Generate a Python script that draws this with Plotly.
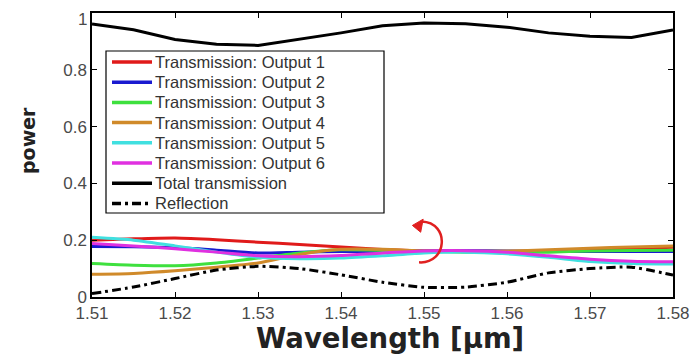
import plotly.graph_objects as go

# data
wavelength = [1.510, 1.515, 1.520, 1.525, 1.530, 1.535, 1.540, 1.545,
              1.550, 1.555, 1.560, 1.565, 1.570, 1.575, 1.580]

out1 = [0.200, 0.205, 0.208, 0.202, 0.193, 0.185, 0.176, 0.167,
        0.162, 0.160, 0.160, 0.162, 0.166, 0.170, 0.175]
out2 = [0.178, 0.177, 0.174, 0.165, 0.155, 0.158, 0.160, 0.161,
        0.162, 0.163, 0.162, 0.160, 0.160, 0.160, 0.160]
out3 = [0.118, 0.112, 0.110, 0.120, 0.137, 0.155, 0.166, 0.164,
        0.160, 0.158, 0.157, 0.158, 0.162, 0.164, 0.165]
out4 = [0.080, 0.083, 0.092, 0.105, 0.120, 0.150, 0.168, 0.168,
        0.162, 0.160, 0.162, 0.166, 0.172, 0.176, 0.180]
out5 = [0.210, 0.200, 0.180, 0.158, 0.140, 0.135, 0.137, 0.145,
        0.155, 0.158, 0.152, 0.140, 0.125, 0.118, 0.116]
out6 = [0.188, 0.180, 0.170, 0.158, 0.145, 0.142, 0.146, 0.155,
        0.162, 0.163, 0.158, 0.145, 0.133, 0.126, 0.124]
total = [0.961, 0.941, 0.907, 0.890, 0.886, 0.908, 0.930, 0.955,
         0.965, 0.962, 0.950, 0.930, 0.918, 0.914, 0.940]
reflection = [0.012, 0.035, 0.065, 0.095, 0.108, 0.100, 0.078, 0.052,
              0.034, 0.035, 0.052, 0.085, 0.100, 0.105, 0.077]

x_ticks = [1.51, 1.52, 1.53, 1.54, 1.55, 1.56, 1.57, 1.58]
y_ticks = [0, 0.2, 0.4, 0.6, 0.8, 1]
y_tick_labels = ["0", "0.2", "0.4", "0.6", "0.8", "1"]

names = ["Transmission: Output 1", "Transmission: Output 2", "Transmission: Output 3",
         "Transmission: Output 4", "Transmission: Output 5", "Transmission: Output 6",
         "Total transmission", "Reflection"]
values = [out1, out2, out3, out4, out5, out6, total, reflection]
colors = ["#e01a1a", "#1a1ad0", "#3ee03e", "#d08a2a", "#40e0e0", "#e030e0", "black", "black"]
dashes = ["solid"] * 7 + ["9px,4px,3px,4px"]

FONT = "Liberation Sans, Arial, sans-serif"
BOLD_FONT = "DejaVu Sans, sans-serif"
TICK_FONT = dict(family=FONT, size=17, color="#4a4a4a")

# the page body adds an 8px offset, so the figure margins are shifted by it
W, H = 698, 358
OFF = 8
P_L, P_R, P_T, P_B = 92, 673, 13, 297          # plot area on the page
PW, PH = P_R - P_L, P_B - P_T


def px_x(p):
    return (p - P_L) / PW


def px_y(p):
    return (P_B - p) / PH


fig = go.Figure()

for name, vals, col, dash in zip(names, values, colors, dashes):
    smooth = name != "Total transmission"
    fig.add_trace(go.Scatter(
        x=wavelength, y=vals, name=name, mode="lines", showlegend=False,
        line=dict(color=col, width=3, dash=dash,
                  shape="spline" if smooth else "linear", smoothing=0.6),
    ))

# curved red arrow (rotation hint)
fig.add_shape(
    type="path", xref="x", yref="y",
    path="M 1.5497,0.266 C 1.5532,0.262 1.5528,0.115 1.5494,0.122",
    line=dict(color="#e02020", width=2.5),
)
fig.add_shape(
    type="path", xref="x", yref="y",
    path="M 1.5486,0.252 L 1.5499,0.274 L 1.5496,0.228 Z",
    line=dict(color="#e02020", width=1), fillcolor="#e02020",
)

# legend box drawn by hand (tighter rows than plotly's legend)
LEG_L, LEG_T, LEG_R, LEG_B = 106, 51, 384, 213
ROW0, ROW_H = 62, 20.2
fig.add_shape(type="rect", xref="paper", yref="paper",
              x0=px_x(LEG_L), x1=px_x(LEG_R), y0=px_y(LEG_B), y1=px_y(LEG_T),
              line=dict(color="black", width=1.2), fillcolor="white", layer="above")
for i, (name, col, dash) in enumerate(zip(names, colors, dashes)):
    yy = px_y(ROW0 + i * ROW_H)
    fig.add_shape(type="line", xref="paper", yref="paper",
                  x0=px_x(112), x1=px_x(152), y0=yy, y1=yy,
                  line=dict(color=col, width=3.5, dash=dash), layer="above")
    fig.add_annotation(xref="paper", yref="paper", x=px_x(153), y=yy,
                       text=name, showarrow=False, xanchor="left", yanchor="middle",
                       font=dict(family=FONT, size=16.5, color="#333333"))

# axis titles
fig.add_annotation(xref="paper", yref="paper", x=px_x(390), y=px_y(338),
                   text="<b>Wavelength [μm]</b>", showarrow=False,
                   xanchor="center", yanchor="middle",
                   font=dict(family=BOLD_FONT, size=27.5, color="#222222"))
fig.add_annotation(xref="paper", yref="paper", x=px_x(28), y=px_y(141),
                   text="<b>power</b>", showarrow=False, textangle=-90,
                   xanchor="center", yanchor="middle",
                   font=dict(family=BOLD_FONT, size=19, color="#222222"))

# the top "1" label would be clipped at the figure edge; pin it just inside
fig.add_annotation(xref="paper", yref="paper", x=px_x(89), y=px_y(OFF),
                   text=y_tick_labels[-1], showarrow=False,
                   xanchor="right", yanchor="top", font=TICK_FONT)

axis_common = dict(
    showgrid=False, zeroline=False, automargin=False,
    showline=True, linecolor="black", linewidth=1.5, mirror="ticks",
    ticks="inside", ticklen=5, tickcolor="black",
    tickfont=TICK_FONT,
)

fig.update_xaxes(range=[1.51, 1.58], tickvals=x_ticks,
                 ticktext=[f"{v:.2f}" for v in x_ticks], **axis_common)
fig.update_yaxes(range=[0, 1], tickvals=y_ticks,
                 ticktext=y_tick_labels[:-1] + [""], **axis_common)

fig.update_layout(
    width=W, height=H,
    margin=dict(l=P_L - OFF, r=W - (P_R - OFF), t=P_T - OFF, b=H - (P_B - OFF)),
    paper_bgcolor="white", plot_bgcolor="white",
    font=dict(family=FONT),
    showlegend=False,
)

fig.write_html("out.html")
